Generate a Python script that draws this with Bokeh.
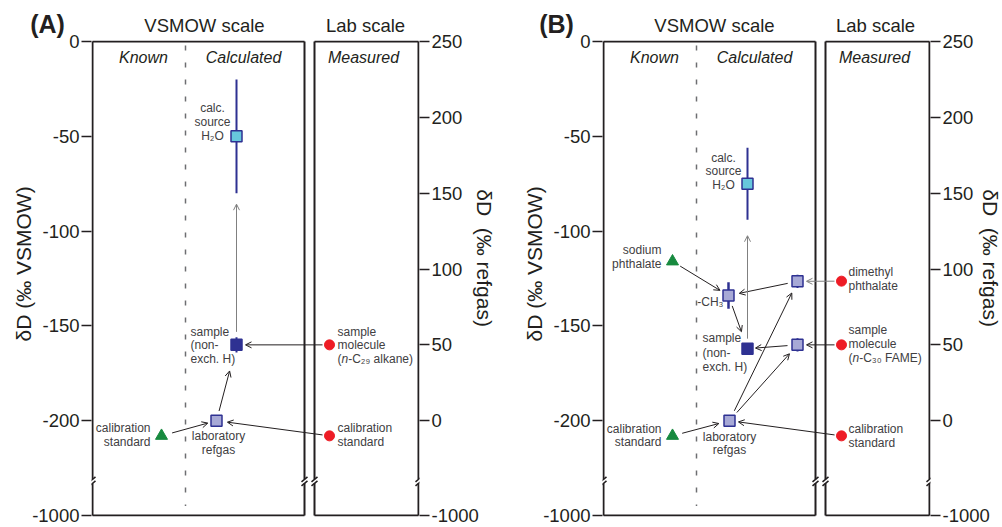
import math
from bokeh.plotting import figure
from bokeh.models import Range1d, LinearAxis, FixedTicker, Label, Arrow, OpenHead
from bokeh.layouts import row, column
from bokeh.embed import file_html
from bokeh.resources import INLINE
from bokeh.core.properties import value

# ---------------- data (deltaD, per mil) ----------------
panel_names = ["(A)", "(B)"]
scale_titles = ["VSMOW scale", "Lab scale"]
column_titles = ["Known", "Calculated", "Measured"]
vsmow_ticks = [0, -50, -100, -150, -200]
lab_ticks = [250, 200, 150, 100, 50, 0]
break_tick_label = "-1000"
refgas_vsmow = -200      # lab-scale 0 per mil == laboratory refgas
lab_per_vsmow = 1.25     # lab-scale units per VSMOW unit

# Panel A (VSMOW scale unless noted)
A_known_std = -208
A_refgas = -200
A_sample = -160
A_sample_err = 4
A_water = -50
A_water_err = 30
A_meas_sample = 50       # lab scale
A_meas_std = -10         # lab scale

# Panel B
B_known_std = -208
B_known_naphth = -116
B_refgas = -200
B_ch3 = -134
B_ch3_err = 7
B_sample = -162
B_sample_err = 3
B_water = -75
B_water_err = 19
B_dmp_calc = -126.5
B_dmp_err = 3.5
B_fame_calc = -160
B_fame_err = 3.5
B_meas_dmp = 92          # lab scale
B_meas_fame = 50         # lab scale
B_meas_std = -10         # lab scale

# ---------------- layout / style ----------------
W, H = 1002, 527
HDR_H = 38               # header canvas height
OVERLAP = 8              # panels start this far above the header's bottom
PANEL_TOP = HDR_H - OVERLAP
DATA_W, DATA_H, PAD = 326, 474, 1
X0_A, X0_B = 92, 603     # page x of each panel's data origin
Y0 = 41                  # page y of the data top (0 per mil)
Y_BOTTOM = -250          # display position of the broken-axis tick
KY = DATA_H / 250.0      # px per unit
BREAK_Y = -232
FONT = "Liberation Sans"
INK = "#231F20"
LABEL_INK = "#414042"
BLUE = "#2E3192"
LILAC = "#A7A9D6"
CYAN = "#67C8DC"
GREEN = "#178A3F"
RED = "#EE1C25"
GRAY = "#808080"
NB = "\u00a0"


def vs(lab):
    return refgas_vsmow + lab / lab_per_vsmow


def base_panel(left, right, lstand, rstand):
    top = Y0 - PAD - PANEL_TOP
    bottom = H - (Y0 + DATA_H + PAD)
    p = figure(frame_width=DATA_W + 2 * PAD, frame_height=DATA_H + 2 * PAD,
               x_range=Range1d(-PAD, DATA_W + PAD),
               y_range=Range1d(Y_BOTTOM - PAD / KY, PAD / KY),
               x_axis_location=None, y_axis_location="left",
               min_border_left=left, min_border_right=right,
               min_border_top=top, min_border_bottom=bottom,
               toolbar_location=None, tools="", output_backend="svg")
    p.outline_line_color = None
    p.xgrid.visible = False
    p.ygrid.visible = False
    p.background_fill_color = "white"
    p.border_fill_alpha = 0
    p.extra_y_ranges = {"lab": Range1d((Y_BOTTOM - PAD / KY - refgas_vsmow) * lab_per_vsmow,
                                       (PAD / KY - refgas_vsmow) * lab_per_vsmow)}
    lab_bottom = (Y_BOTTOM - refgas_vsmow) * lab_per_vsmow
    ra = LinearAxis(y_range_name="lab")
    p.add_layout(ra, "right")
    la = p.yaxis[0]
    la.ticker = FixedTicker(ticks=vsmow_ticks + [Y_BOTTOM])
    ov = {t: str(t) for t in vsmow_ticks}
    ov[Y_BOTTOM] = break_tick_label
    la.major_label_overrides = ov
    ra.ticker = FixedTicker(ticks=lab_ticks + [lab_bottom])
    ov2 = {t: str(t) for t in lab_ticks}
    ov2[lab_bottom] = break_tick_label
    ra.major_label_overrides = ov2
    la.axis_label = NB * 5 + "δD (‰ VSMOW)"
    ra.axis_label = "δD" + NB * 2 + "(‰ refgas)" + NB * 7
    for ax, st in ((la, lstand), (ra, rstand)):
        ax.axis_line_color = None
        ax.major_tick_out = 10
        ax.major_tick_in = 0
        ax.minor_tick_out = 0
        ax.minor_tick_in = 0
        ax.major_tick_line_color = INK
        ax.major_tick_line_width = 1.5
        ax.major_label_standoff = 2
        ax.major_label_text_font = FONT
        ax.major_label_text_font_size = "18.5px"
        ax.major_label_text_color = INK
        ax.axis_label_text_font = FONT
        ax.axis_label_text_font_size = "21px"
        ax.axis_label_text_font_style = "normal"
        ax.axis_label_text_color = INK
        ax.axis_label_standoff = st

    # boxes with axis breaks
    g = 2 / KY
    for x in [0, 212, 222, 326]:
        p.segment(x0=[x, x], y0=[0, BREAK_Y - g], x1=[x, x], y1=[BREAK_Y + g, Y_BOTTOM],
                  line_color=INK, line_width=2)
        for yc in (BREAK_Y + g, BREAK_Y - g):
            p.segment(x0=[x - 3], y0=[yc - 2.5 / KY], x1=[x + 3], y1=[yc + 2.5 / KY],
                      line_color=INK, line_width=1.5)
    p.segment(x0=[0, 222, 0, 222], y0=[0, 0, Y_BOTTOM, Y_BOTTOM],
              x1=[212, 326, 212, 326], y1=[0, 0, Y_BOTTOM, Y_BOTTOM],
              line_color=INK, line_width=2)
    p.segment(x0=[93], y0=[-4 / KY], x1=[93], y1=[-245], line_color="#6D6E71",
              line_width=1.5, line_dash="5 12")

    col_y = -16 / KY
    for cx, t in zip([51, 151, 271], column_titles):
        p.add_layout(Label(x=cx, y=col_y, text=t, text_align="center", text_baseline="middle",
                           text_font=FONT, text_font_size="16px", text_font_style="italic",
                           text_color=INK))
    return p


def txt(p, x, v, lines, dys, align, style="normal"):
    p.text(x=[x] * len(lines), y=[v - d / KY for d in dys], text=lines,
           text_font=value(FONT), text_font_size="12px", text_font_style=style,
           text_color=LABEL_INK, text_align=align, text_baseline="middle")


def italic_line(p, x, v, dy, rest):
    txt(p, x, v, ["("], [dy], "left")
    txt(p, x + 4.0, v, ["n"], [dy], "left", style="italic")
    txt(p, x + 10.7, v, [rest], [dy], "left")


def arrow(p, a, b, g1, g2, color=INK):
    (x1, y1), (x2, y2) = a, b
    dx, dy = x2 - x1, (y2 - y1) * KY
    L = math.hypot(dx, dy)
    ux, uy = dx / L, dy / L
    p.add_layout(Arrow(x_start=x1 + ux * g1, y_start=y1 + uy * g1 / KY,
                       x_end=x2 - ux * g2, y_end=y2 - uy * g2 / KY,
                       line_color=color, line_width=1,
                       end=OpenHead(size=6, line_color=color, line_width=1)))


def errbars(p, xs, vs_, errs, width=2):
    p.segment(x0=xs, y0=[v - e for v, e in zip(vs_, errs)], x1=xs,
              y1=[v + e for v, e in zip(vs_, errs)], line_color=BLUE, line_width=width)


def squares(p, xs, vs_, fill):
    p.scatter(x=xs, y=vs_, marker="square", size=11, fill_color=fill, line_color=BLUE, line_width=1.5)


# ---------------- header (panel letters and scale titles) ----------------
hdr = figure(frame_width=W, frame_height=HDR_H, x_range=Range1d(0, W), y_range=Range1d(HDR_H, 0),
             x_axis_location=None, y_axis_location=None, min_border=0,
             toolbar_location=None, tools="", output_backend="svg")
hdr.outline_line_color = None
hdr.background_fill_alpha = 0
hdr.border_fill_alpha = 0
hdr.grid.visible = False
hdr.text(x=[X0_A - 45, X0_B - 47], y=[23, 23], text=panel_names, text_font=value(FONT),
         text_font_size="25px", text_font_style="bold", text_color=INK,
         text_align="center", text_baseline="middle")
hdr.text(x=[X0_A + 112, X0_A + 273, X0_B + 111, X0_B + 272], y=[25, 25, 25, 25],
         text=scale_titles * 2, text_font=value(FONT), text_font_size="18.5px",
         text_color=INK, text_align="center", text_baseline="middle")

# ---------------- panel A ----------------
pA = base_panel(X0_A - PAD, 501 - (X0_A + DATA_W + PAD), -6, -9)
xA = dict(known=69, ref=124, calc=144, meas=237)
a_std = (xA["known"], A_known_std)
a_ref = (xA["ref"], A_refgas)
a_smp = (xA["calc"], A_sample)
a_wat_lo = (xA["calc"], A_water - A_water_err)
a_msmp = (xA["meas"], vs(A_meas_sample))
a_mstd = (xA["meas"], vs(A_meas_std))
arrow(pA, a_std, a_ref, 11, 9)
arrow(pA, a_mstd, a_ref, 7, 11)
arrow(pA, a_ref, a_smp, 10, 27)
arrow(pA, a_msmp, a_smp, 7, 9)
arrow(pA, a_smp, a_wat_lo, 13, 11, GRAY)
errbars(pA, [xA["calc"], xA["calc"]], [A_water, A_sample], [A_water_err, A_sample_err])
squares(pA, [xA["ref"]], [A_refgas], LILAC)
squares(pA, [xA["calc"]], [A_sample], BLUE)
squares(pA, [xA["calc"]], [A_water], CYAN)
pA.scatter(x=[xA["known"]], y=[A_known_std], marker="triangle", size=12, color=GREEN)
pA.scatter(x=[xA["meas"]] * 2, y=[A_meas_sample, A_meas_std], y_range_name="lab",
           marker="circle", size=10, color=RED)
txt(pA, 120, A_water, ["calc.", "source", "H₂O"], [-28, -14, 0], "center")
txt(pA, 98, A_sample, ["sample", "(non-", "exch. H)"], [-13, 0, 14], "left")
txt(pA, 58, A_known_std, ["calibration", "standard"], [-8, 6], "right")
txt(pA, 126, A_refgas, ["laboratory", "refgas"], [15, 29], "center")
txt(pA, 245, vs(A_meas_sample), ["sample", "molecule"], [-13, 0], "left")
italic_line(pA, 245, vs(A_meas_sample), 14, "-C₂₉ alkane)")
txt(pA, 245, vs(A_meas_std), ["calibration", "standard"], [-8, 6], "left")

# ---------------- panel B ----------------
pB = base_panel(X0_B - PAD - 501, W - (X0_B + DATA_W + PAD), -6, -14)
xB = dict(known=69, ref=126, ch3=125, calc=144, calc2=194, meas=238)
b_std = (xB["known"], B_known_std)
b_nap = (xB["known"], B_known_naphth)
b_ref = (xB["ref"], B_refgas)
b_ch3 = (xB["ch3"], B_ch3)
b_smp = (xB["calc"], B_sample)
b_wat_lo = (xB["calc"], B_water - B_water_err)
b_dmp = (xB["calc2"], B_dmp_calc)
b_fame = (xB["calc2"], B_fame_calc)
b_mdmp = (xB["meas"], vs(B_meas_dmp))
b_mfame = (xB["meas"], vs(B_meas_fame))
b_mstd = (xB["meas"], vs(B_meas_std))
arrow(pB, b_std, b_ref, 10, 11)
arrow(pB, b_mstd, b_ref, 7, 9)
arrow(pB, b_nap, b_ch3, 9, 10)
arrow(pB, b_mdmp, b_dmp, 7, 9, GRAY)
arrow(pB, b_mfame, b_fame, 7, 9)
arrow(pB, b_dmp, b_ch3, 10, 11)
arrow(pB, b_fame, b_smp, 10, 8)
arrow(pB, b_ch3, b_smp, 11, 18)
arrow(pB, b_ref, b_dmp, 11, 13)
arrow(pB, b_ref, b_fame, 11, 12)
arrow(pB, b_smp, b_wat_lo, 10, 16, GRAY)
errbars(pB, [xB["calc"], xB["calc"]], [B_water, B_sample], [B_water_err, B_sample_err])
errbars(pB, [xB["ch3"]], [B_ch3], [B_ch3_err], width=2.5)
errbars(pB, [xB["calc2"], xB["calc2"]], [B_dmp_calc, B_fame_calc], [B_dmp_err, B_fame_err])
squares(pB, [xB["ref"], xB["ch3"], xB["calc2"], xB["calc2"]],
        [B_refgas, B_ch3, B_dmp_calc, B_fame_calc], LILAC)
squares(pB, [xB["calc"]], [B_sample], BLUE)
squares(pB, [xB["calc"]], [B_water], CYAN)
pB.scatter(x=[xB["known"]] * 2, y=[B_known_naphth, B_known_std], marker="triangle", size=12, color=GREEN)
pB.scatter(x=[xB["meas"]] * 3, y=[B_meas_dmp, B_meas_fame, B_meas_std], y_range_name="lab",
           marker="circle", size=10, color=RED)
txt(pB, 120, B_water, ["calc.", "source", "H₂O"], [-26, -13, 1], "center")
txt(pB, 58, B_known_naphth, ["sodium", "phthalate"], [-11, 3], "right")
txt(pB, 120, B_ch3, ["-CH₃"], [6], "right")
txt(pB, 99, B_sample, ["sample", "(non-", "exch. H)"], [-11, 4, 18], "left")
txt(pB, 58, B_known_std, ["calibration", "standard"], [-7, 6], "right")
txt(pB, 126, B_refgas, ["laboratory", "refgas"], [16, 29], "center")
txt(pB, 245, vs(B_meas_dmp), ["dimethyl", "phthalate"], [-9, 5], "left")
txt(pB, 245, vs(B_meas_fame), ["sample", "molecule"], [-15, -1], "left")
italic_line(pB, 245, vs(B_meas_fame), 13, "-C₃₀ FAME)")
txt(pB, 245, vs(B_meas_std), ["calibration", "standard"], [-7, 7], "left")

panels = row(pA, pB, margin=(-OVERLAP, 0, 0, 0))
layout = column(hdr, panels)
open("out.html", "w").write(file_html(layout, INLINE))
